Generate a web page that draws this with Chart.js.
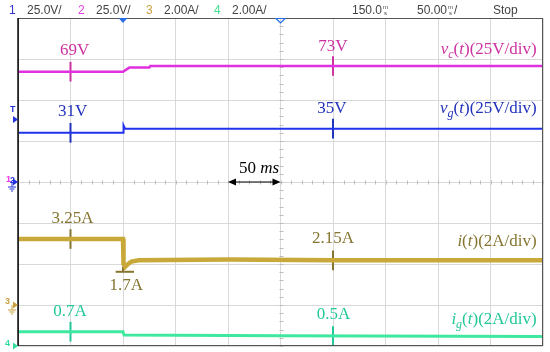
<!DOCTYPE html>
<html>
<head>
<meta charset="utf-8">
<script src="https://cdn.jsdelivr.net/npm/chart.js@4.4.1/dist/chart.umd.min.js"></script>
<style>
  html, body { margin: 0; padding: 0; background: #fff; }
  #wrap { width: 550px; height: 352px; }
</style>
</head>
<body>
<div id="wrap"><canvas id="scope" width="550" height="352"></canvas></div>
<script>
// x = time in ms (10 div x 50 ms), y = screen divisions (0 bottom .. 8 top)
const tVc = [0, 100, 106, 125, 126, 500];
const vc  = [6.69, 6.69, 6.79, 6.79, 6.83, 6.83];
const tVg = [0, 100, 100.5, 102, 500];
const vg  = [5.20, 5.20, 5.38, 5.30, 5.30];
const tI  = [0, 100, 100.5, 102, 104, 108, 115, 200, 300, 500];
const iL  = [2.61, 2.61, 2.00, 1.93, 1.98, 2.06, 2.09, 2.11, 2.09, 2.09];
const tIg = [0, 100, 101, 250, 500];
const ig  = [0.35, 0.35, 0.27, 0.25, 0.23];

// cursor markers
const markerT = [50, 300];
const markerVc = [6.69, 6.83];
const markerVg = [5.20, 5.30];
const markerI  = [2.61, 2.09];
const markerIg = [0.35, 0.24];
const minT = [93, 110.5];   // 1.7A minimum marker
const minLevel = 1.81;

// value labels
const valueText = ['69V', '73V', '31V', '35V', '3.25A', '2.15A', '1.7A', '0.7A', '0.5A'];
const valueT    = [54, 300, 52, 299, 52, 300, 103, 49.5, 300.5];
const valueY    = [7.09, 7.20, 5.60, 5.68, 3.01, 2.52, 1.37, 0.73, 0.66];
const valueCh   = ['vc', 'vc', 'vg', 'vg', 'i', 'i', 'i', 'ig', 'ig'];

// scale label per trace: [sub, scale]
const traceName = { vc: ['v', 'c', '25V/div'], vg: ['v', 'g', '25V/div'], i: ['i', '', '2A/div'], ig: ['i', 'g', '2A/div'] };
const traceLabelY = { vc: 7.12, vg: 5.68, i: 2.45, ig: 0.54 };

// header
const chScale = ['25.0V/', '25.0V/', '2.00A/', '2.00A/'];
const timePos = '150.0';
const timeDiv = '50.00';
const runState = 'Stop';
const spanT = [200, 250];   // "50 ms" arrow

const trace = { vc: '#e030e0', vg: '#2233ee', i: '#c8a838', ig: '#3ee89e' };
const ink   = { vc: '#cc33a0', vg: '#2233bb', i: '#857530', ig: '#22c899' };

const pts = (xs, ys) => xs.map((x, k) => ({ x: x, y: ys[k] }));

const datasets = [
  { data: pts(tVc, vc), borderColor: trace.vc, borderWidth: 2.5 },
  { data: pts(tVg, vg), borderColor: trace.vg, borderWidth: 2 },
  { data: pts(tI, iL), borderColor: trace.i, borderWidth: 4.5 },
  { data: pts(tIg, ig), borderColor: trace.ig, borderWidth: 3 }
];
const half = 0.24;
[[markerVc, 'vc'], [markerVg, 'vg'], [markerI, 'i'], [markerIg, 'ig']].forEach(([lv, ch]) => {
  markerT.forEach((t, k) => {
    datasets.push({ data: [{ x: t, y: lv[k] - half }, { x: t, y: lv[k] + half }], borderColor: ink[ch], borderWidth: 2 });
  });
});
datasets.push({ data: [{ x: minT[0], y: minLevel }, { x: minT[1], y: minLevel }], borderColor: ink.i, borderWidth: 2 });
datasets.push({ data: [{ x: 100, y: minLevel }, { x: 100, y: iL[3] }], borderColor: ink.i, borderWidth: 2 });
datasets.forEach(d => { d.showLine = true; d.pointRadius = 0; d.tension = 0; d.fill = false; });

const serif = '"Liberation Serif", "Times New Roman", serif';
const sans = '"Liberation Sans", Arial, sans-serif';

function drawRich(ctx, parts, x, y, align) {
  let w = 0;
  parts.forEach(p => { ctx.font = p[1]; w += ctx.measureText(p[0]).width; });
  let cx = align === 'right' ? x - w : (align === 'center' ? x - w / 2 : x);
  ctx.textAlign = 'left';
  parts.forEach(p => {
    ctx.font = p[1];
    ctx.fillText(p[0], cx, y + (p[2] || 0));
    cx += ctx.measureText(p[0]).width;
  });
}

const overlay = {
  id: 'overlay',
  beforeDatasetsDraw(chart) {
    const { ctx, chartArea: a, scales: { x, y } } = chart;
    ctx.save();
    // minor ticks on the centre lines
    ctx.strokeStyle = '#bdbdbd';
    ctx.lineWidth = 1;
    const cy = Math.round(y.getPixelForValue(4)) + 0.5;
    const cx = Math.round(x.getPixelForValue(250)) + 0.5;
    ctx.beginPath();
    for (let t = 0; t <= 500; t += 10) {
      const px = Math.round(x.getPixelForValue(t)) + 0.5;
      ctx.moveTo(px, cy - 2); ctx.lineTo(px, cy + 2);
    }
    for (let d = 0; d <= 8; d += 0.2) {
      const py = Math.round(y.getPixelForValue(d)) + 0.5;
      ctx.moveTo(cx - 2, py); ctx.lineTo(cx + 2, py);
    }
    ctx.stroke();
    ctx.restore();
  },
  afterDatasetsDraw(chart) {
    const { ctx, chartArea: a, scales: { x, y } } = chart;
    ctx.save();
    // frame
    ctx.strokeStyle = '#555';
    ctx.lineWidth = 1;
    ctx.strokeRect(a.left + 0.5, a.top + 0.5, a.right - a.left - 1, a.bottom - a.top - 1);
    ctx.strokeStyle = '#111';
    ctx.lineWidth = 1.5;
    ctx.beginPath(); ctx.moveTo(a.left, a.top); ctx.lineTo(a.left, a.bottom); ctx.stroke();

    // value labels
    ctx.textBaseline = 'alphabetic';
    ctx.textAlign = 'center';
    ctx.font = '17px ' + serif;
    valueText.forEach((s, k) => {
      ctx.fillStyle = ink[valueCh[k]];
      ctx.fillText(s, x.getPixelForValue(valueT[k]), y.getPixelForValue(valueY[k]));
    });

    // trace names, right aligned
    const xr = x.getPixelForValue(494);
    Object.keys(traceName).forEach(ch => {
      const [v, sub, sc] = traceName[ch];
      const parts = [[v, 'italic 17px ' + serif]];
      if (sub) parts.push([sub, 'italic 12px ' + serif, 4]);
      parts.push(['(', '17px ' + serif], ['t', 'italic 17px ' + serif], [')(' + sc + ')', '17px ' + serif]);
      ctx.fillStyle = ink[ch];
      drawRich(ctx, parts, xr, y.getPixelForValue(traceLabelY[ch]), 'right');
    });

    // 50 ms span arrow
    ctx.fillStyle = '#000';
    ctx.strokeStyle = '#000';
    drawRich(ctx, [['50 ', '17px ' + serif], ['ms', 'italic 17px ' + serif]],
      x.getPixelForValue((spanT[0] + spanT[1]) / 2 + 4.5), y.getPixelForValue(4.23), 'center');
    const ay = y.getPixelForValue(4);
    const x0 = x.getPixelForValue(spanT[0]), x1 = x.getPixelForValue(spanT[1]);
    ctx.lineWidth = 1.2;
    ctx.beginPath(); ctx.moveTo(x0 + 4, ay); ctx.lineTo(x1 - 4, ay); ctx.stroke();
    ctx.beginPath();
    ctx.moveTo(x0, ay); ctx.lineTo(x0 + 8, ay - 3.5); ctx.lineTo(x0 + 8, ay + 3.5); ctx.closePath();
    ctx.moveTo(x1, ay); ctx.lineTo(x1 - 8, ay - 3.5); ctx.lineTo(x1 - 8, ay + 3.5); ctx.closePath();
    ctx.fill();

    // trigger position markers on top edge
    const tx = x.getPixelForValue(100), hx = x.getPixelForValue(250);
    ctx.fillStyle = '#2a6ee6';
    ctx.beginPath(); ctx.moveTo(tx - 4.5, a.top); ctx.lineTo(tx + 4.5, a.top); ctx.lineTo(tx, a.top + 5); ctx.closePath(); ctx.fill();
    ctx.strokeStyle = '#2a6ee6'; ctx.lineWidth = 1.2;
    ctx.beginPath(); ctx.moveTo(hx - 4.5, a.top + 0.5); ctx.lineTo(hx + 4.5, a.top + 0.5); ctx.lineTo(hx, a.top + 5); ctx.closePath(); ctx.stroke();

    // left-side channel ground / trigger markers
    const arrow = (py, col) => {
      ctx.fillStyle = col;
      ctx.beginPath(); ctx.moveTo(a.left - 5, py - 3.5); ctx.lineTo(a.left, py); ctx.lineTo(a.left - 5, py + 3.5); ctx.closePath(); ctx.fill();
    };
    const ground = (px, py, col) => {
      ctx.strokeStyle = col; ctx.lineWidth = 1;
      ctx.beginPath();
      ctx.moveTo(px, py); ctx.lineTo(px, py + 5);
      ctx.moveTo(px - 4, py + 5); ctx.lineTo(px + 4, py + 5);
      ctx.moveTo(px - 2.5, py + 7); ctx.lineTo(px + 2.5, py + 7);
      ctx.moveTo(px - 1, py + 9); ctx.lineTo(px + 1, py + 9);
      ctx.stroke();
    };
    ctx.textAlign = 'left'; ctx.textBaseline = 'middle';
    ctx.font = 'bold 9px ' + sans;
    ctx.fillStyle = '#2233dd'; ctx.fillText('T', 10, 110);
    arrow(119.5, '#2233dd');
    const g12 = y.getPixelForValue(4);
    ctx.fillStyle = '#ee33ee'; ctx.fillText('1', 6, g12 - 2);
    ctx.fillStyle = '#2233dd'; ctx.fillText('2', 10, g12 - 1);
    ground(12, g12, '#2233dd'); arrow(g12, '#2233dd');
    const g3 = y.getPixelForValue(1);
    ctx.fillStyle = '#c8a040'; ctx.fillText('3', 5, g3 - 3);
    ground(12, g3, '#c8a040'); arrow(g3, '#c8a040');
    const g4 = y.getPixelForValue(0);
    ctx.fillStyle = '#33dd99'; ctx.fillText('4', 5, g4 - 2);
    arrow(g4, '#33dd99');

    // header line
    ctx.textBaseline = 'alphabetic';
    ctx.font = '12px ' + sans;
    const chCol = ['#3333cc', '#e040e0', '#c8a040', '#40e090'];
    const chX = [9, 78, 146, 214];
    chScale.forEach((s, k) => {
      ctx.fillStyle = chCol[k]; ctx.fillText(String(k + 1), chX[k], 14);
      ctx.fillStyle = '#444'; ctx.fillText(s, chX[k] + 18, 14);
    });
    const msGlyph = (px) => {
      ctx.font = '6px ' + sans;
      ctx.fillText('m', px, 9);
      ctx.fillText('s', px + 1, 15);
      ctx.font = '12px ' + sans;
      return px + 6;
    };
    ctx.fillStyle = '#444';
    ctx.fillText(timePos, 352, 14);
    msGlyph(352 + ctx.measureText(timePos).width + 1);
    ctx.fillText(timeDiv, 417, 14);
    const e = msGlyph(417 + ctx.measureText(timeDiv).width + 1);
    ctx.fillText('/', e, 14);
    ctx.fillText(runState, 493, 14);
    ctx.restore();
  }
};

new Chart(document.getElementById('scope'), {
  type: 'scatter',
  data: { datasets: datasets },
  options: {
    responsive: false,
    devicePixelRatio: 1,
    animation: false,
    layout: { padding: { left: 18, top: 18, right: 7, bottom: 6 } },
    plugins: { legend: { display: false }, tooltip: { enabled: false } },
    scales: {
      x: {
        type: 'linear', min: 0, max: 500,
        ticks: { display: false, stepSize: 50 },
        grid: { color: '#d9d9d9', drawTicks: false, lineWidth: 1 },
        border: { display: false }
      },
      y: {
        type: 'linear', min: 0, max: 8,
        ticks: { display: false, stepSize: 1 },
        grid: { color: '#d9d9d9', drawTicks: false, lineWidth: 1 },
        border: { display: false }
      }
    }
  },
  plugins: [overlay]
});
</script>
</body>
</html>
